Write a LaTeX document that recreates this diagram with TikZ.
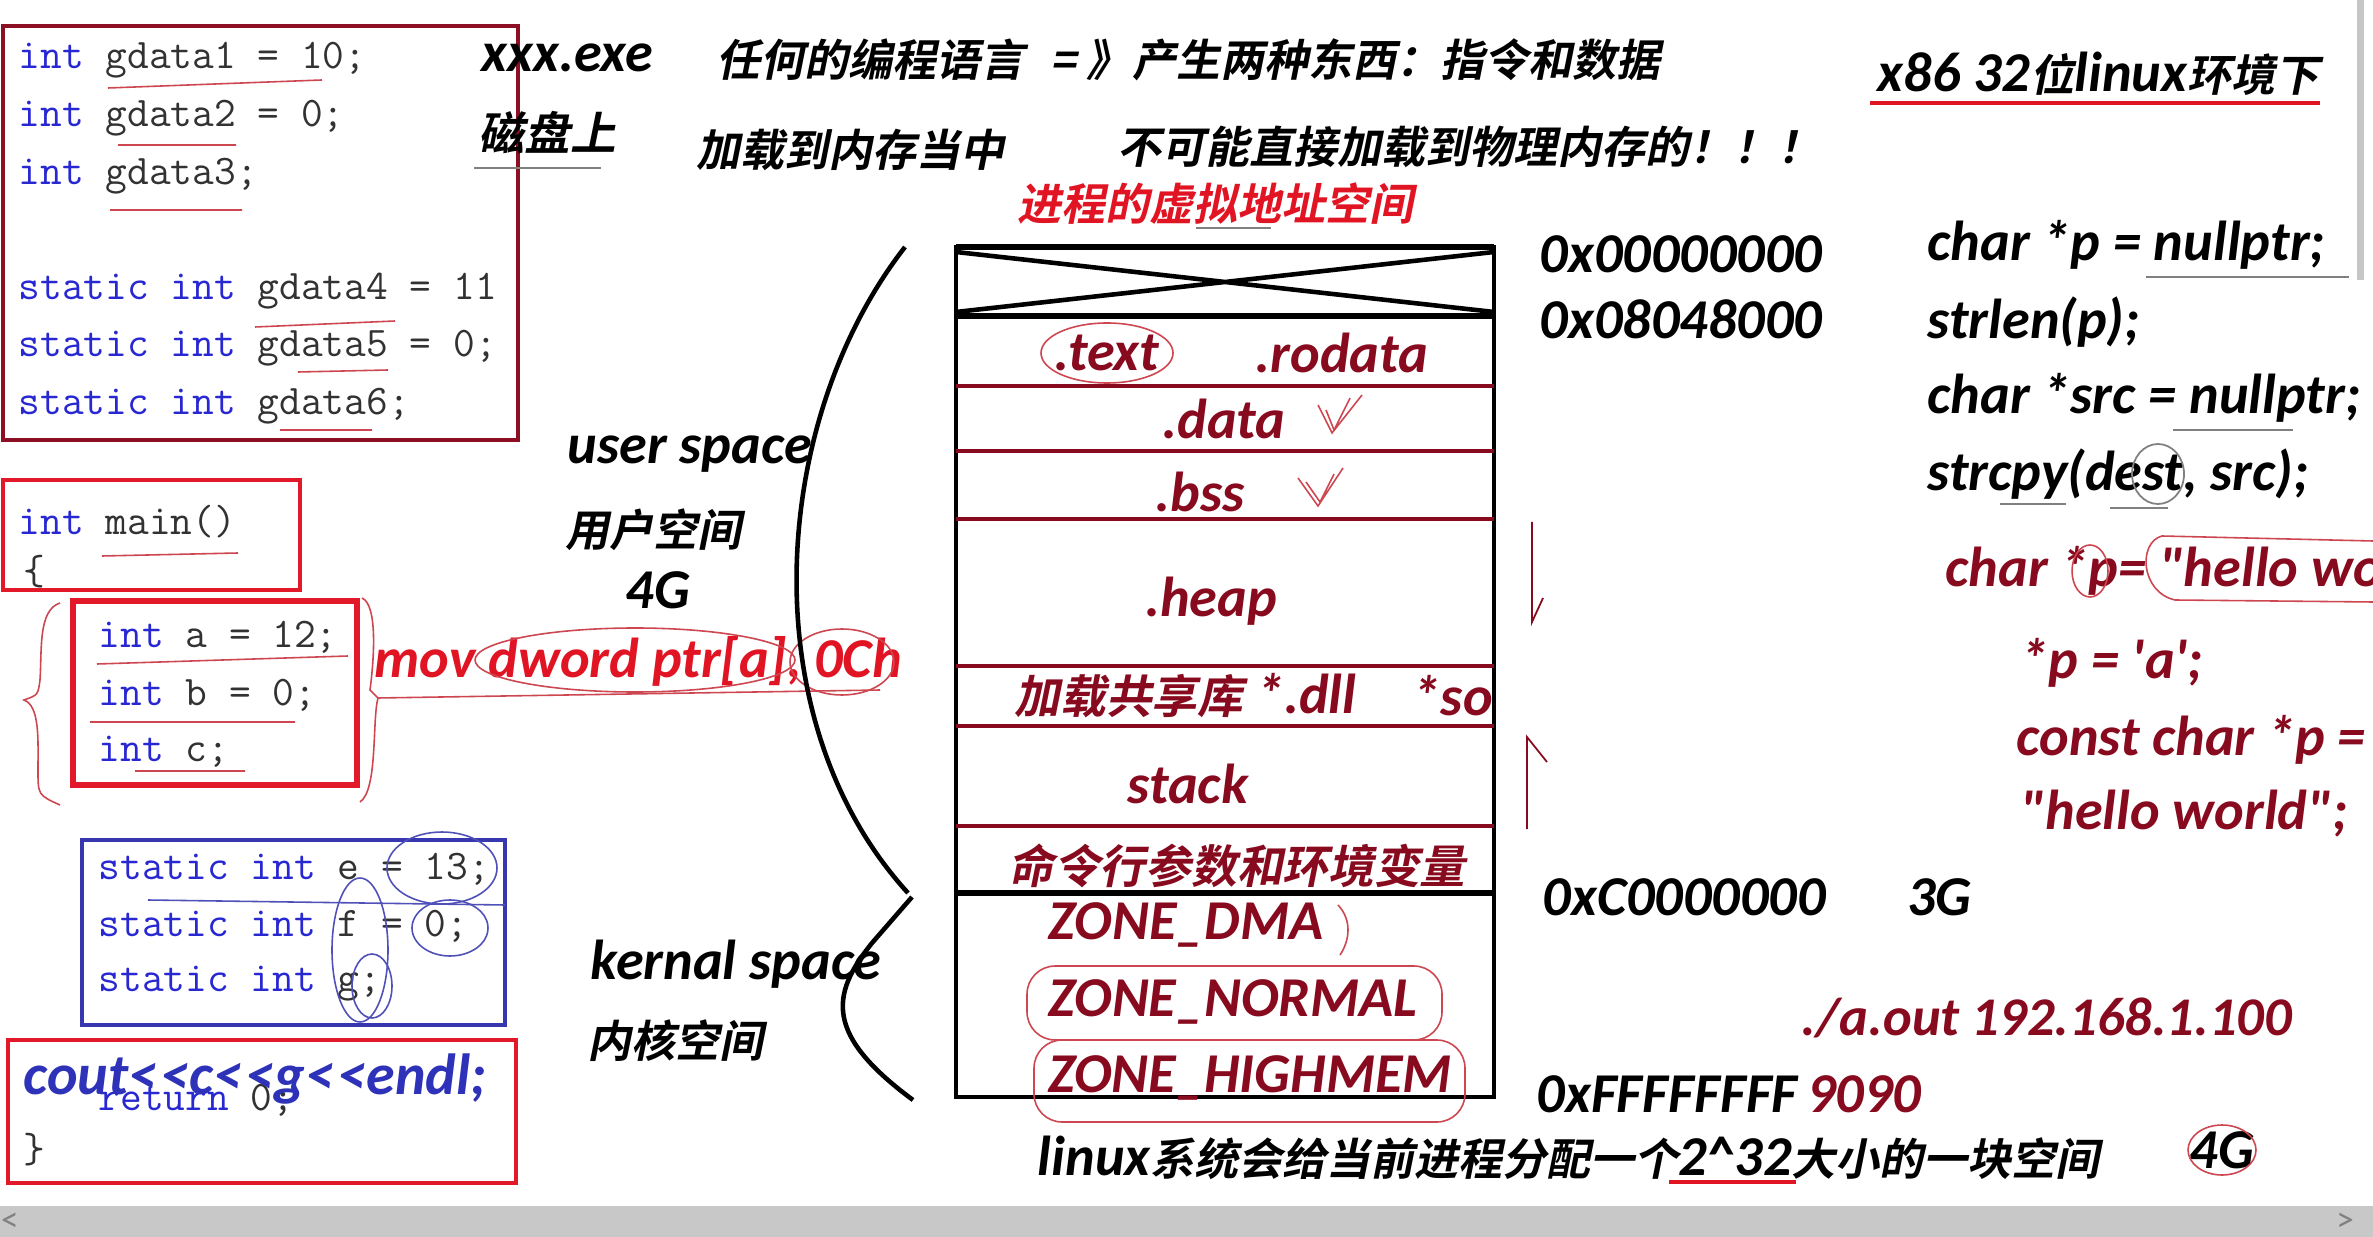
\documentclass[tikz,border=0pt]{standalone}
\usepackage{fontspec}
\setmainfont{Carlito}
\newfontfamily\cjk{Noto Sans CJK SC}[UprightFont=* Bold,FakeSlant=0.2]
\usetikzlibrary{positioning}

\definecolor{kwblue}{RGB}{40,40,210}
\definecolor{idgray}{RGB}{50,50,50}
\definecolor{darkbox}{RGB}{140,15,35}
\definecolor{redbox}{RGB}{225,25,40}
\definecolor{bluebox}{RGB}{55,55,175}
\definecolor{segred}{RGB}{135,10,30}
\definecolor{hired}{RGB}{225,20,35}
\definecolor{coutblue}{RGB}{45,50,185}
\definecolor{handred}{RGB}{205,70,80}
\definecolor{handblue}{RGB}{80,80,185}
\definecolor{barg}{RGB}{200,200,200}

\newcommand\kw[1]{\textcolor{kwblue}{#1}}
\newcommand\lat[1]{{\normalfont\fontsize{16}{19}\selectfont\bfseries\itshape #1}}
\newcommand\shl{<\kern1pt<}
\newcommand\dq{\textquotedbl}

\begin{document}
\begin{tikzpicture}[x=0.01cm,y=-0.01cm,
    code/.style={anchor=west,inner sep=0pt,text=idgray,font=\fontsize{12}{14}\selectfont\ttfamily},
    bi/.style={anchor=west,inner sep=0pt,font=\fontsize{16}{19}\selectfont\bfseries\itshape},
    zh/.style={anchor=west,inner sep=0pt,font=\fontsize{12.5}{15}\selectfont\cjk},
    seglab/.style={inner sep=0pt,text=segred,font=\fontsize{16}{19}\selectfont\bfseries\itshape},
    segzh/.style={inner sep=0pt,text=segred,font=\fontsize{13}{15}\selectfont\cjk},
    sepline/.style={segred,line width=1.3pt},
    hand/.style={handred,line width=0.45pt},
    handb/.style={handblue,line width=0.45pt}]

  \useasboundingbox (0,0) rectangle (2373,1237);
  \fill[white] (0,0) rectangle (2373,1237);

  % globals
  \draw[darkbox,line width=1.1pt] (3,26) rectangle (518,440);
  \node[code] (g1) at (18,60)  {\kw{int} gdata1 = 10;};
  \node[code] (g2) at (18,118) {\kw{int} gdata2 = 0;};
  \node[code] (g3) at (18,176) {\kw{int} gdata3;};
  \node[code] (g4) at (18,291) {\kw{static int} gdata4 = 11};
  \node[code] (g5) at (18,348) {\kw{static int} gdata5 = 0;};
  \node[code] (g6) at (18,406) {\kw{static int} gdata6;};
  \draw[hand] (108,88) -- (322,80) (118,145) -- (236,145) (110,210) -- (242,210)
              (255,327) -- (395,321) (298,372) -- (388,370) (280,430) -- (372,430);

  % main
  \draw[redbox,line width=1.1pt] (3,480) rectangle (300,590);
  \node[code] (mn) at (18,522) {\kw{int} main()};
  \node[code] (ob) at (23,572) {\{};
  \draw[hand] (102,556) -- (238,553);
  \draw[redbox,line width=1.8pt] (73,601) rectangle (357,785);
  \node[code] (la) at (98,637) {\kw{int} a = 12;};
  \node[code] (lb) at (98,695) {\kw{int} b = 0;};
  \node[code] (lc) at (98,752) {\kw{int} c;};
  \draw[hand] (97,664) -- (348,656) (90,722) -- (295,722) (135,771) -- (245,771);
  \draw[hand] (60,603) .. controls (38,610) and (42,650) .. (40,680) .. controls (38,695) .. (24,700)
              .. controls (40,706) and (38,740) .. (38,770) .. controls (38,795) .. (60,805);
  \draw[hand] (362,598) .. controls (378,605) and (374,660) .. (370,690) -- (378,698)
              .. controls (372,720) and (378,790) .. (360,802);
  \draw[hand] (378,698) -- (880,690);

  \node[bi,text=hired] (mv) at (374,661) {mov dword ptr[a], 0Ch};
  \draw[hand] (635,660) ellipse (160 and 32);
  \draw[hand] (842,662) ellipse (52 and 33);

  % statics
  \draw[bluebox,line width=1.3pt] (82,840) rectangle (505,1025);
  \node[code] (se) at (98,869) {\kw{static int} e = 13;};
  \node[code] (sf) at (98,926) {\kw{static int} f = 0;};
  \node[code] (sg) at (98,984) {\kw{static int} g;};
  \draw[handb] (148,900) -- (505,905);
  \draw[handb] (442,868) ellipse (55 and 36);
  \draw[handb] (450,928) ellipse (38 and 28);
  \draw[handb] (360,950) ellipse (28 and 72);
  \draw[handb] (372,986) ellipse (20 and 32);

  \draw[redbox,line width=1.3pt] (8,1040) rectangle (516,1183);
  \node[code] (rt) at (98,1100) {\kw{return} 0;};
  \node[code] (cb) at (23,1150) {\}};
  \node[bi,text=coutblue,font=\fontsize{16.5}{20}\selectfont\bfseries\itshape] (co) at (23,1079)
    {cout\shl c\shl g\shl endl;};

  % headings
  \node[bi] (exe) at (481,58) {xxx.exe};
  \node[zh,font=\fontsize{13}{15}\selectfont\cjk] (disk) at (478,133) {磁盘上};
  \draw[gray,line width=0.6pt] (474,168) -- (601,168);
  \node[zh] (t1) at (716,60) {任何的编程语言};
  \node[zh] (t2) at (1050,60) {= 》};
  \node[zh] (t3) at (1132,60) {产生两种东西：指令和数据};
  \node[zh] (t4) at (696,150) {加载到内存当中};
  \node[zh] (t5) at (1117,147) {不可能直接加载到物理内存的！！！};
  \node[zh,text=hired] (vas) at (1017,204) {进程的虚拟地址空间};
  \draw[gray,line width=0.6pt] (1196,228) -- (1271,228);
  \node[zh] (env) at (1877,74) {\lat{x86 32}位\lat{linux}环境下};
  \draw[hired,line width=1.4pt] (1870,103) -- (2320,103);

  % memory layout
  \draw[line width=1.2pt] (956,247) rectangle (1494,1097);
  \draw[line width=1.8pt] (956,247) -- (1494,247);
  \draw[line width=1.6pt] (956,316) -- (1494,316);
  \draw[line width=1.3pt] (956,252) -- (1494,312) (956,312) -- (1494,252);
  \foreach \y in {386,451,519,666,726,826}
    \draw[sepline] (956,\y) -- (1494,\y);
  \draw[line width=1.6pt] (956,893) -- (1494,893);

  \node[seglab] (txt) at (1107,353) {.text};
  \node[seglab] (rod) at (1342,353) {.rodata};
  \node[seglab] (dat) at (1224,419) {.data};
  \node[seglab] (bss) at (1200,492) {.bss};
  \node[seglab] (hp)  at (1211,601) {.heap};
  \node[segzh,anchor=west] (dll) at (1014,696) {加载共享库\lat{ *.dll}};
  \node[seglab,anchor=west,right=0.55cm of dll] (so) {*so};
  \node[seglab] (stk) at (1188,784) {stack};
  \node[segzh] (arg) at (1237,866) {命令行参数和环境变量};
  \node[seglab] (zd) at (1186,925)  {ZONE\_DMA};
  \node[seglab] (zn) at (1233,1002) {ZONE\_NORMAL};
  \node[seglab] (zh) at (1250,1078) {ZONE\_HIGHMEM};

  \draw[hand] (1107,353) ellipse (66 and 30);
  \draw[hand] (1318,405) -- (1332,433) -- (1362,395) (1326,410) -- (1334,430) -- (1350,398);
  \draw[hand] (1298,478) -- (1318,506) -- (1343,468) (1306,482) -- (1320,502) -- (1334,474);
  \draw[hand] (1338,905) .. controls (1352,920) and (1350,940) .. (1340,955);
  \draw[hand,rounded corners=8pt] (1027,966) rectangle (1442,1040);
  \draw[hand,rounded corners=8pt] (1034,1040) rectangle (1465,1122);
  \draw[segred,line width=0.5pt] (1532,522) -- (1532,622) -- (1543,598);
  \draw[segred,line width=0.5pt] (1527,829) -- (1527,737) -- (1547,762);

  % braces
  \coordinate (ut) at (905,247);
  \coordinate (ub) at (908,893);
  \coordinate (kt) at (912,897);
  \coordinate (kb) at (913,1100);
  \draw[line width=1.3pt] (ut) .. controls (770,420) and (750,720) .. (ub);
  \draw[line width=1.3pt] (kt) -- (872,943) .. controls (830,995) and (825,1035) .. (kb);

  \node[bi] (us) at (567,454) {user space};
  \node[zh] (usz) at (565,530) {用户空间};
  \node[bi,anchor=center] (g4g) at (658,590) {4G};
  \node[bi] (ks) at (590,964) {kernal space};
  \node[zh] (ksz) at (587,1041) {内核空间};

  % addresses
  \node[bi] (a0) at (1539,254) {0x00000000};
  \node[bi] (a1) at (1539,319) {0x08048000};
  \node[bi] (c0) at (1542,897) {0xC0000000};
  \node[bi,right=0.8cm of c0] (g3g) {3G};
  \node[bi,text=segred,font=\fontsize{15.5}{18}\selectfont\bfseries\itshape] (aout) at (1801,1018) {./a.out 192.168.1.100};
  \node[bi] (ff) at (1536,1094) {0xFFFFFFFF};
  \node[bi,text=segred,right=0.08cm of ff] (port) {9090};
  \node[zh] (alloc) at (1037,1158) {\lat{linux}系统会给当前进程分配一个\lat{2\textasciicircum32}大小的一块空间};
  \draw[hired,line width=1.2pt] (1669,1182) -- (1796,1182);
  \node[bi,anchor=center] (g4b) at (2222,1150) {4G};
  \draw[hand] (g4b) ellipse (34 and 25);

  % right code
  \node[bi] (r1) at (1927,245) {char *p = nullptr;};
  \node[bi] (r2) at (1927,322) {strlen(p);};
  \node[bi] (r3) at (1927,398) {char *src = nullptr;};
  \node[bi] (r4) at (1927,474) {strcpy(dest, src);};
  \draw[gray,line width=0.6pt] (2146,277) -- (2349,277) (2173,430) -- (2293,430)
        (2000,504) -- (2066,504) (2110,508) -- (2168,508);
  \draw[gray,line width=0.5pt] (2158,474) ellipse (26 and 30);
  \begin{scope}
    \clip (0,0) rectangle (2373,1237);
    \node[bi,text=segred] (r5) at (1945,571) {char *p= \dq hello world\dq;};
    \draw[hand] (2090,571) ellipse (18 and 26);
    \draw[hand] (2373,541) -- (2162,536) .. controls (2138,542) and (2140,592) .. (2175,600) -- (2373,602);
  \end{scope}
  \node[bi,text=segred] (r6) at (2020,663) {*p = \textquotesingle a\textquotesingle;};
  \node[bi,text=segred] (r7) at (2016,740) {const char *p =};
  \node[bi,text=segred] (r8) at (2020,814) {\dq hello world\dq;};

  % window frame
  \draw[gray!45,line width=2pt] (2360,0) -- (2360,280);
  \fill[barg] (0,1206) rectangle (2373,1237);
  \node[inner sep=0pt,text=gray,font=\fontsize{10}{12}\selectfont] (lt) at (10,1222) {<};
  \node[inner sep=0pt,text=gray,font=\fontsize{10}{12}\selectfont] (gt) at (2345,1222) {>};
\end{tikzpicture}
\end{document}
